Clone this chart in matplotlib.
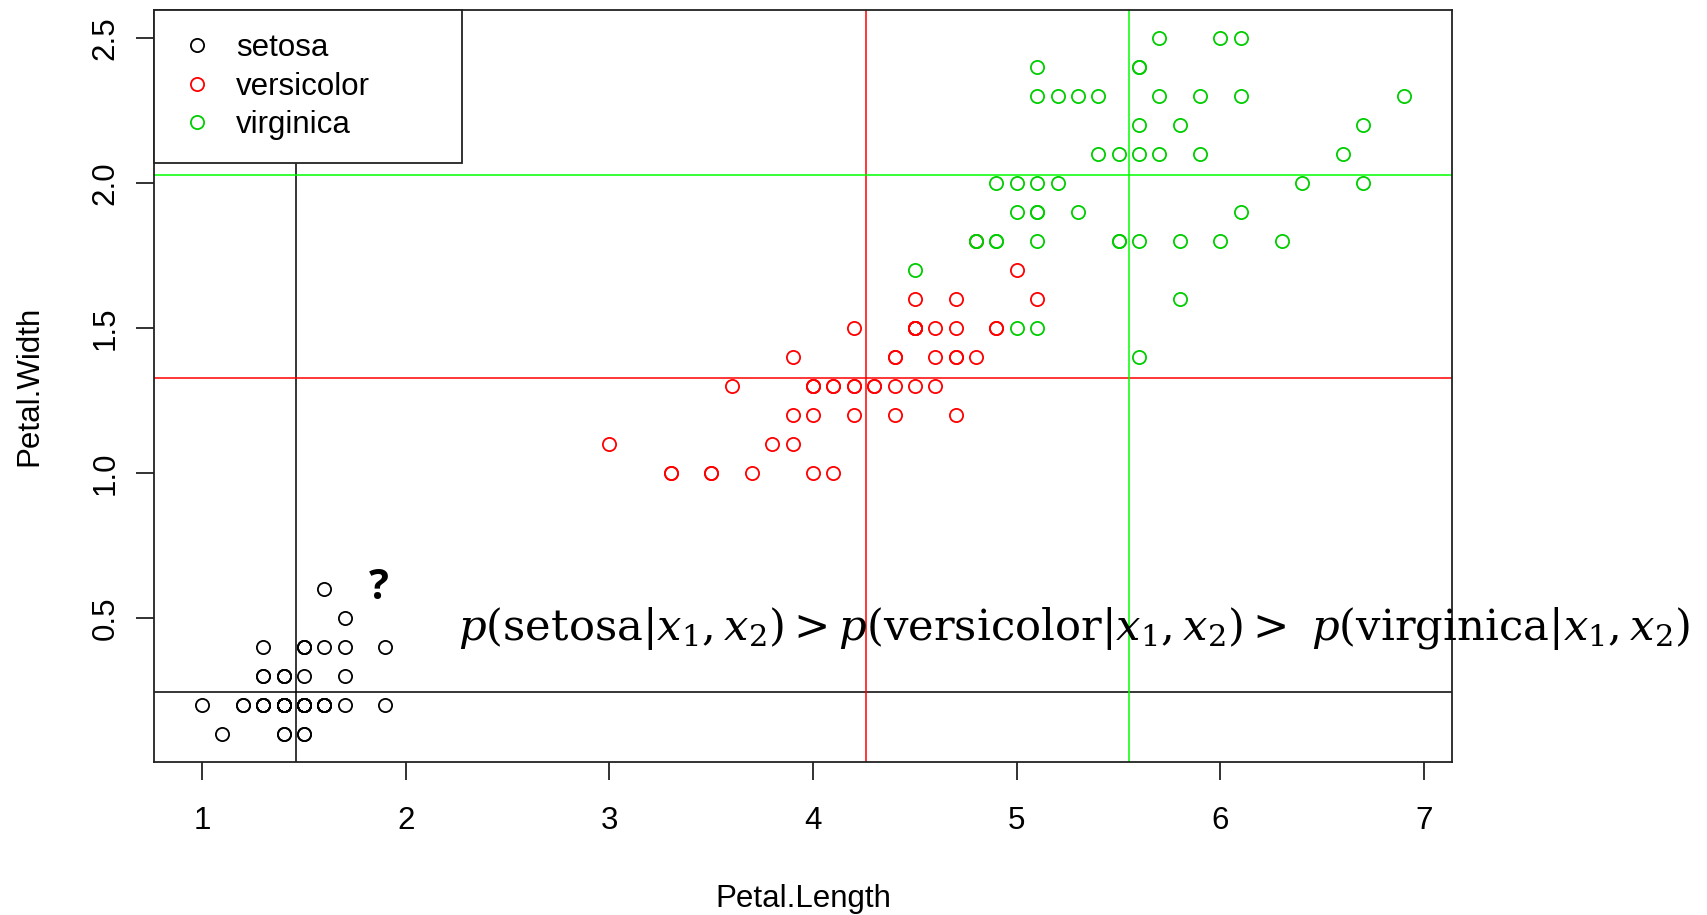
import numpy as np
import matplotlib
matplotlib.use("Agg")
import matplotlib.pyplot as plt

# iris 数据：花瓣长度 / 宽度
setosa_len = [1.4, 1.4, 1.3, 1.5, 1.4, 1.7, 1.4, 1.5, 1.4, 1.5, 1.5, 1.6, 1.4, 1.1, 1.2, 1.5, 1.3,
              1.4, 1.7, 1.5, 1.7, 1.5, 1.0, 1.7, 1.9, 1.6, 1.6, 1.5, 1.4, 1.6, 1.6, 1.5, 1.5, 1.4,
              1.5, 1.2, 1.3, 1.4, 1.3, 1.5, 1.3, 1.3, 1.3, 1.6, 1.9, 1.4, 1.6, 1.4, 1.5, 1.4]
setosa_wid = [0.2, 0.2, 0.2, 0.2, 0.2, 0.4, 0.3, 0.2, 0.2, 0.1, 0.2, 0.2, 0.1, 0.1, 0.2, 0.4, 0.4,
              0.3, 0.3, 0.3, 0.2, 0.4, 0.2, 0.5, 0.2, 0.2, 0.4, 0.2, 0.2, 0.2, 0.2, 0.4, 0.1, 0.2,
              0.2, 0.2, 0.2, 0.1, 0.2, 0.2, 0.3, 0.3, 0.2, 0.6, 0.4, 0.3, 0.2, 0.2, 0.2, 0.2]
versicolor_len = [4.7, 4.5, 4.9, 4.0, 4.6, 4.5, 4.7, 3.3, 4.6, 3.9, 3.5, 4.2, 4.0, 4.7, 3.6, 4.4,
                  4.5, 4.1, 4.5, 3.9, 4.8, 4.0, 4.9, 4.7, 4.3, 4.4, 4.8, 5.0, 4.5, 3.5, 3.8, 3.7,
                  3.9, 5.1, 4.5, 4.5, 4.7, 4.4, 4.1, 4.0, 4.4, 4.6, 4.0, 3.3, 4.2, 4.2, 4.2, 4.3,
                  3.0, 4.1]
versicolor_wid = [1.4, 1.5, 1.5, 1.3, 1.5, 1.3, 1.6, 1.0, 1.3, 1.4, 1.0, 1.5, 1.0, 1.4, 1.3, 1.4,
                  1.5, 1.0, 1.5, 1.1, 1.8, 1.3, 1.5, 1.2, 1.3, 1.4, 1.4, 1.7, 1.5, 1.0, 1.1, 1.0,
                  1.2, 1.6, 1.5, 1.6, 1.5, 1.3, 1.3, 1.3, 1.2, 1.4, 1.2, 1.0, 1.3, 1.2, 1.3, 1.3,
                  1.1, 1.3]
virginica_len = [6.0, 5.1, 5.9, 5.6, 5.8, 6.6, 4.5, 6.3, 5.8, 6.1, 5.1, 5.3, 5.5, 5.0, 5.1, 5.3,
                 5.5, 6.7, 6.9, 5.0, 5.7, 4.9, 6.7, 4.9, 5.7, 6.0, 4.8, 4.9, 5.6, 5.8, 6.1, 6.4,
                 5.6, 5.1, 5.6, 6.1, 5.6, 5.5, 4.8, 5.4, 5.6, 5.1, 5.1, 5.9, 5.7, 5.2, 5.0, 5.2,
                 5.4, 5.1]
virginica_wid = [2.5, 1.9, 2.1, 1.8, 2.2, 2.1, 1.7, 1.8, 1.8, 2.5, 2.0, 1.9, 2.1, 2.0, 2.4, 2.3,
                 1.8, 2.2, 2.3, 1.5, 2.3, 2.0, 2.0, 1.8, 2.1, 1.8, 1.8, 1.8, 2.1, 1.6, 1.9, 2.0,
                 2.2, 1.5, 1.4, 2.3, 2.4, 1.8, 1.8, 2.1, 2.4, 2.3, 1.9, 2.3, 2.5, 2.3, 1.9, 2.0,
                 2.3, 1.8]

species = ["setosa", "versicolor", "virginica"]
point_colors = ["black", "#FF0000", "#00CD00"]
line_colors = ["black", "#FF0000", "#00FF00"]
x_ticks = [1, 2, 3, 4, 5, 6, 7]
y_ticks = [0.5, 1.0, 1.5, 2.0, 2.5]

plt.rcParams['font.family'] = ['Liberation Sans', 'DejaVu Sans']
plt.rcParams['mathtext.fontset'] = 'dejavuserif'

fig = plt.figure(figsize=(17.08, 9.15), dpi=100)
ax = fig.add_axes([0.0902, 0.1675, 0.7598, 0.8216])

data = [(setosa_len, setosa_wid), (versicolor_len, versicolor_wid), (virginica_len, virginica_wid)]
for (xs, ys), name, c in zip(data, species, point_colors):
    ax.plot(xs, ys, linestyle="none", marker="o", ms=9.5, mfc="none", mec=c, mew=1.3, label=name)

# 各类均值线
for (xs, ys), c in zip(data, line_colors):
    ax.axvline(np.mean(xs), color=c, lw=1.1)
    ax.axhline(np.mean(ys), color=c, lw=1.1)

ax.set_xlim(0.764, 7.136)
ax.set_ylim(0.004, 2.596)
ax.set_xticks(x_ticks)
ax.set_yticks(y_ticks)
ax.set_yticklabels(["%.1f" % v for v in y_ticks])
ax.tick_params(axis="both", length=13, width=1.3, color="#222222", labelsize=22.5)
ax.tick_params(axis="x", pad=19)
ax.tick_params(axis="y", pad=11, labelrotation=90)
for lab in ax.get_yticklabels():
    lab.set_va("center")
for s in ax.spines.values():
    s.set_linewidth(1.3)
    s.set_color("#222222")

ax.set_xlabel("Petal.Length", fontsize=22.5)
ax.set_ylabel("Petal.Width", fontsize=22.5)
ax.xaxis.set_label_coords(0.5, -0.162)
ax.yaxis.set_label_coords(-0.0848, 0.5)

leg = ax.legend(loc="upper left", bbox_to_anchor=(0, 1, 0.237, 0), mode="expand",
                borderaxespad=0, fancybox=False, framealpha=1, fontsize=22.5,
                handlelength=1.28, handletextpad=0.6, borderpad=0.74, labelspacing=0.27)
leg.get_frame().set_edgecolor("#222222")
leg.get_frame().set_linewidth(1.3)

ax.text(1.866, 0.60, "?", fontsize=30, fontweight="bold", family="Open Sans",
        ha="center", va="center")
formula = (r"$p(\mathrm{setosa}|x_1,x_2) > p(\mathrm{versicolor}|x_1,x_2) >\ "
           r"p(\mathrm{virginica}|x_1,x_2)$")
t = ax.text(2.255, 0.425, formula, fontsize=30, ha="left", va="baseline")
# 让公式宽度和原图差不多
fig.canvas.draw()
w = t.get_window_extent().width
t.set_fontsize(30 * 1232 / w)

plt.savefig("out.png", dpi=100)
